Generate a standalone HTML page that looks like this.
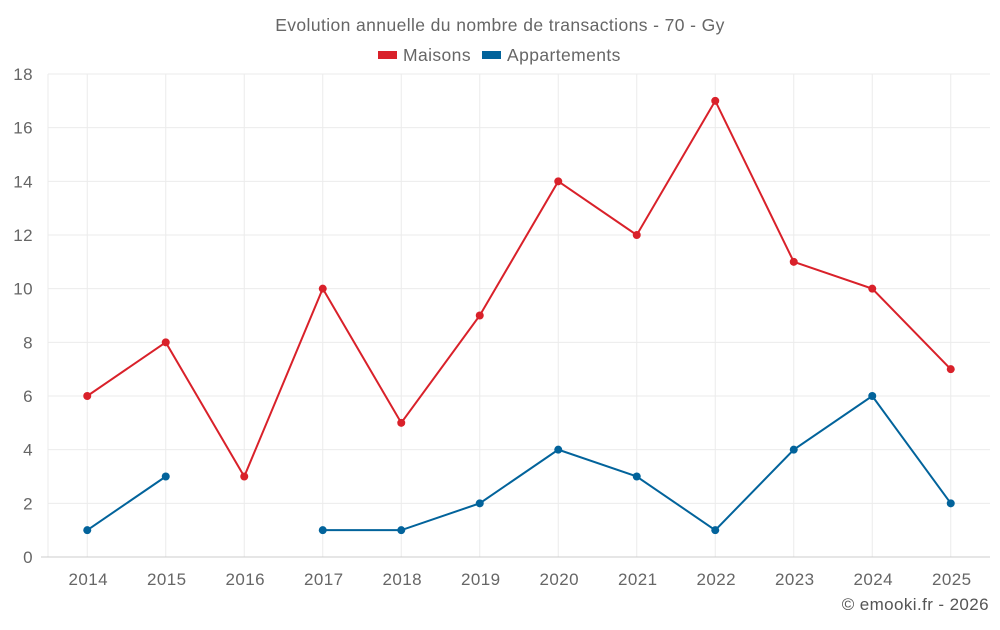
<!DOCTYPE html>
<html><head><meta charset="utf-8"><style>
body{margin:0;background:#fff;font-family:"Liberation Sans",sans-serif;}
svg text{font-family:"Liberation Sans",sans-serif;letter-spacing:0.4px;}
</style></head><body>
<svg id="chart" width="1000" height="625" xmlns="http://www.w3.org/2000/svg">
<text x="500" y="31" text-anchor="middle" font-size="17.5" fill="#666">Evolution annuelle du nombre de transactions - 70 - Gy</text>
<g>
<g><rect x="378" y="51" width="19" height="8" fill="#d9212a"/><text x="403" y="61" font-size="17.5" fill="#666">Maisons</text></g>
<g><rect x="482" y="51" width="19" height="8" fill="#02639b"/><text x="507" y="61" font-size="17.5" fill="#666">Appartements</text></g>
</g>
<g id="grid"></g><g id="axes"></g><g id="series"></g>
<text x="989" y="610" text-anchor="end" font-size="17" fill="#555">© emooki.fr - 2026</text>
</svg>
<script>
const categories=["2014","2015","2016","2017","2018","2019","2020","2021","2022","2023","2024","2025"];
const maisons=[6,8,3,10,5,9,14,12,17,11,10,7];
const appartements=[1,3,null,1,1,2,4,3,1,4,6,2];
const yTicks=[0,2,4,6,8,10,12,14,16,18];
const NS="http://www.w3.org/2000/svg";
const L=48,R=990,T=74,B=557,yMax=18;
const band=(R-L)/categories.length;
const x=i=>L+band*(i+0.5);
const y=v=>B-(v/yMax)*(B-T);
function mk(tag,attrs,parent){const e=document.createElementNS(NS,tag);for(const k in attrs)e.setAttribute(k,attrs[k]);document.getElementById(parent).appendChild(e);return e;}
yTicks.forEach(t=>{
 const g=mk('line',{x1:L,x2:R,y1:y(t),y2:y(t),stroke:t===0?'#ccc':'#ebebeb','stroke-width':1},'grid');
 
 
 const tx=mk('text',{x:33,y:y(t)+6,'text-anchor':'end','font-size':17,fill:'#666'},'axes');
 tx.textContent=t;
 
 
});
mk('line',{x1:L,x2:L,y1:T,y2:B,stroke:'#ebebeb'},'grid');
categories.forEach((c,i)=>{
 const g=mk('line',{x1:x(i),x2:x(i),y1:T,y2:B,stroke:'#ebebeb'},'grid');
 
 
 const tx=mk('text',{x:x(i)+1,y:585,'text-anchor':'middle','font-size':17,fill:'#666'},'axes');
 tx.textContent=c;
 
 
});
mk('line',{x1:41,x2:R,y1:B,y2:B,stroke:'#ccc'},'axes');
function drawSeries(vals,color,name){
 let d='',pen=false;
 vals.forEach((v,i)=>{if(v==null){pen=false;return;}d+=(pen?'L':'M')+x(i)+' '+y(v)+' ';pen=true;});
 const p=mk('path',{d:d,fill:'none',stroke:color,'stroke-width':2},'series');
 
 
 vals.forEach((v,i)=>{if(v==null)return;
  const c=mk('circle',{cx:x(i),cy:y(v),r:4,fill:color},'series');
  
  
 });
}
drawSeries(maisons,'#d9212a','maisons');
drawSeries(appartements,'#02639b','appartements');
</script>
</body></html>
